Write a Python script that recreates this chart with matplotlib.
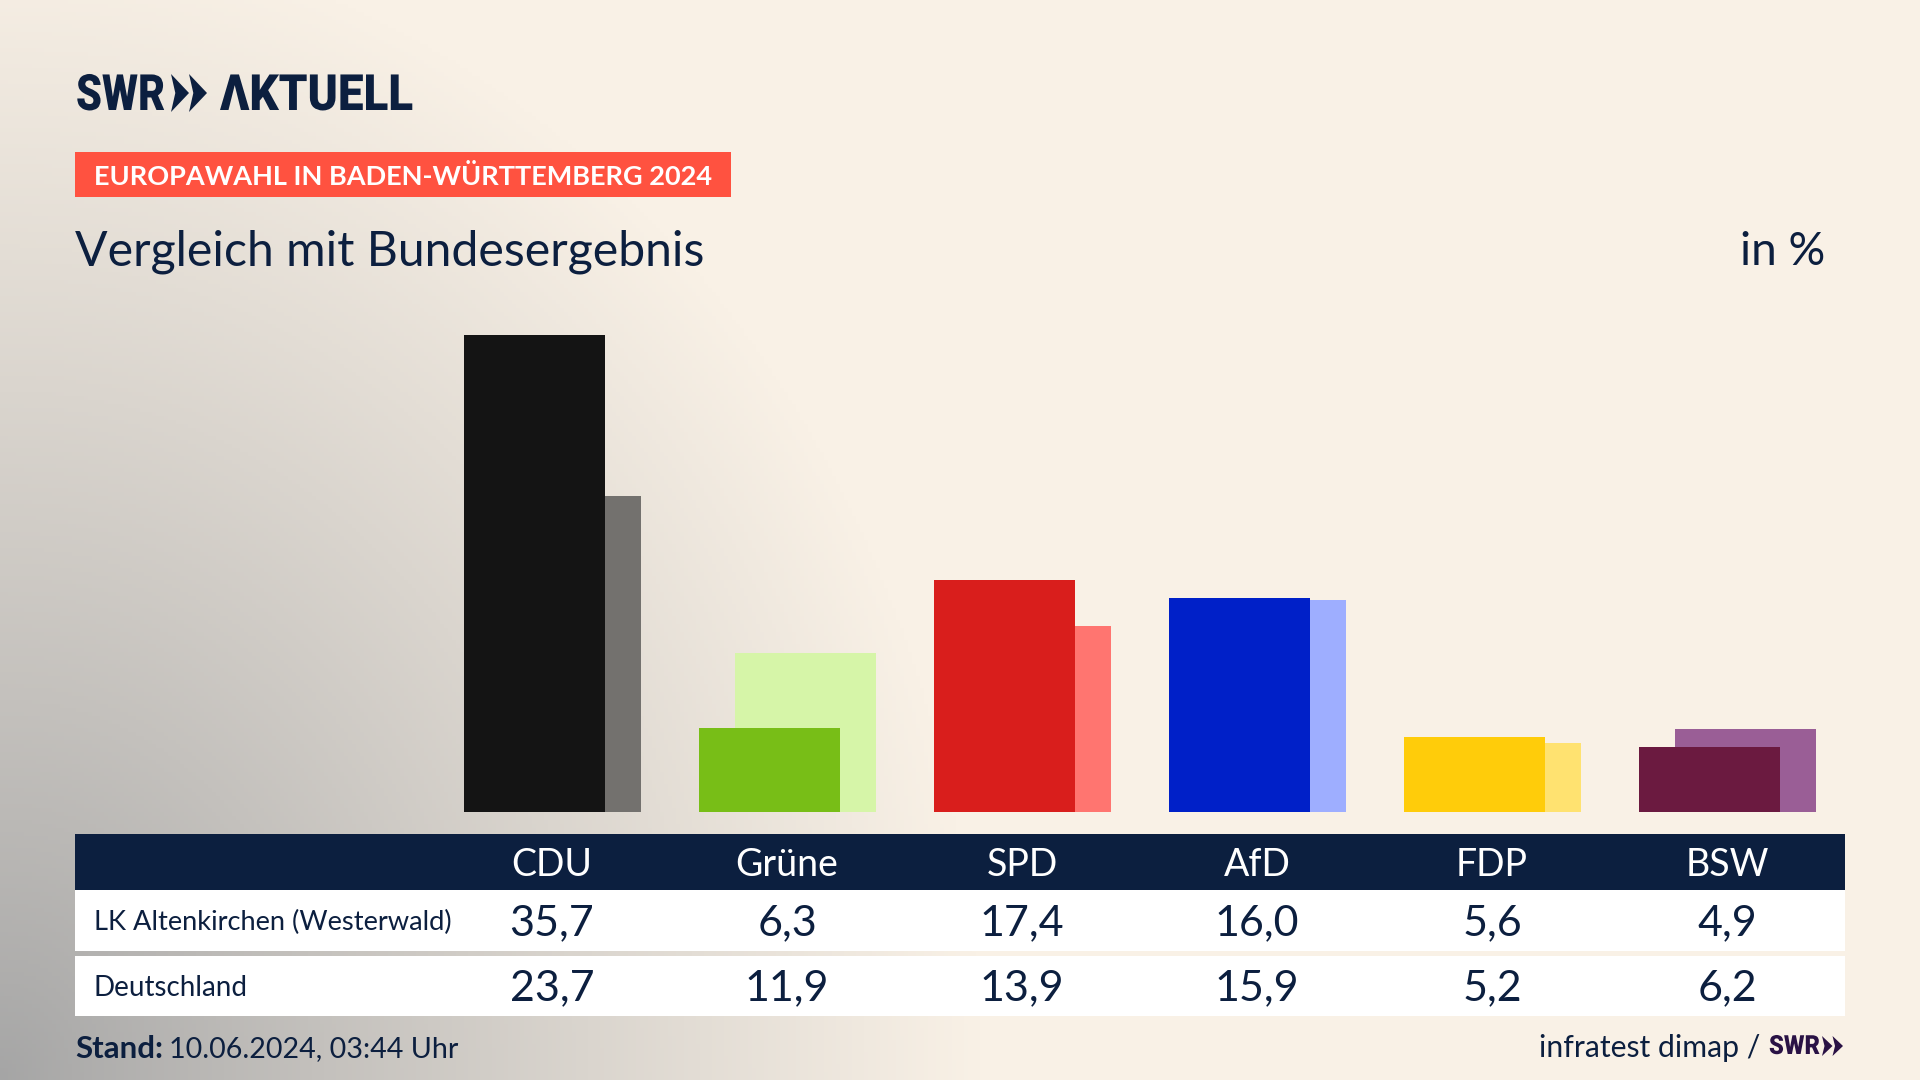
import numpy as np
import matplotlib
matplotlib.use('Agg')
import matplotlib.pyplot as plt
from matplotlib.patches import Polygon, Rectangle
from matplotlib.patheffects import AbstractPathEffect
from matplotlib.transforms import Affine2D, blended_transform_factory

parties = ['CDU', 'Grüne', 'SPD', 'AfD', 'FDP', 'BSW']
region_name = 'LK Altenkirchen (Westerwald)'
region_values = [35.7, 6.3, 17.4, 16.0, 5.6, 4.9]
national_name = 'Deutschland'
national_values = [23.7, 11.9, 13.9, 15.9, 5.2, 6.2]
front_colors = ['#141414', '#78BE17', '#D91E1C', '#0020C8', '#FFCC0A', '#6B1A40']
back_colors = ['#73716E', '#D6F5A8', '#FF7570', '#9EAEFF', '#FFE270', '#9A5E96']

NAVY = '#0C1F3F'
FONT = ['Lato', 'DejaVu Sans']
LOGO_FONT = ['Roboto', 'DejaVu Sans']


class SqueezeX(AbstractPathEffect):
    """Narrow a text horizontally around x0 (pixels), there is no condensed logo font"""

    def __init__(self, factor, x0):
        super().__init__()
        self.squeeze = Affine2D().translate(-x0, 0).scale(factor, 1).translate(x0, 0)

    def draw_path(self, renderer, gc, tpath, affine, rgbFace=None):
        renderer.draw_path(gc, tpath, affine + self.squeeze, rgbFace)


def fmt(value):
    return f'{value:.1f}'.replace('.', ',')


def draw_chevrons(ax, x, top, bottom, width, color):
    # the two arrows of the SWR logo
    mid = (top + bottom) / 2
    for i in range(2):
        x0 = x + i * width * 0.5
        ax.add_patch(Polygon([(x0, top), (x0 + width * 0.5, mid), (x0, bottom), (x0 + width * 0.12, mid)],
                             closed=True, color=color, lw=0))


fig = plt.figure(figsize=(19.2, 10.8), dpi=100)

# full figure layer in pixel coordinates, for background, table and texts
bg = fig.add_axes([0, 0, 1, 1])
bg.set_xlim(0, 1920)
bg.set_ylim(1080, 0)
bg.axis('off')

# background: cream with a grey glow out of the lower left corner
yy, xx = np.mgrid[0:1080:270j, 0:1920:480j]
dist = np.sqrt((xx / 980) ** 2 + ((1080 - yy) / 1150) ** 2)
t = np.clip(dist, 0, 1) ** 0.9
cream = np.array([249, 241, 230]) / 255
grey = np.array([165, 165, 165]) / 255
bg.imshow(grey + (cream - grey) * t[..., None], extent=(0, 1920, 1080, 0), aspect='auto', zorder=0)

# bars, 13.35 px per percent point
ax = fig.add_axes([434.5 / 1920, (1080 - 812) / 1080, 1410 / 1920, 480 / 1080])
ax.patch.set_alpha(0)
ax.set_xlim(-0.5, 5.5)
ax.set_ylim(0, 480 / 13.35)
ax.axis('off')
x = np.arange(len(parties))
ax.bar(x + 0.078, national_values, width=0.6, color=back_colors, zorder=2)
ax.bar(x - 0.0755, region_values, width=0.6, color=front_colors, zorder=3)

# header
bg.text(76, 96.5, 'SWR', family=LOGO_FONT, weight=900, fontsize=36, color=NAVY, va='center', ha='left',
        path_effects=[SqueezeX(0.83, 76)])
draw_chevrons(bg, 171, 74, 112, 36, NAVY)
bg.text(220, 96.5, 'ΛKTUELL', family=LOGO_FONT, weight=900, fontsize=36, color=NAVY, va='center', ha='left',
        path_effects=[SqueezeX(0.915, 220)])

bg.add_patch(Rectangle((75, 152), 656, 45, color='#FF5240', lw=0))
bg.text(94, 176.5, 'EUROPAWAHL IN BADEN-WÜRTTEMBERG 2024', family=FONT, weight='bold', fontsize=19.5,
        color='white', va='center', ha='left')
bg.text(75, 252, 'Vergleich mit Bundesergebnis', family=FONT, fontsize=34.7, color=NAVY, va='center', ha='left')
bg.text(1825, 252, 'in %', family=FONT, fontsize=33, color=NAVY, va='center', ha='right')

# table
bg.add_patch(Rectangle((75, 834), 1770, 56, color=NAVY, lw=0))
bg.add_patch(Rectangle((75, 890), 1770, 61, color='white', lw=0))
bg.add_patch(Rectangle((75, 956), 1770, 60, color='white', lw=0))
bg.text(94, 922, region_name, family=FONT, fontsize=19.6, color=NAVY, va='center', ha='left')
bg.text(94, 988, national_name, family=FONT, fontsize=20, color=NAVY, va='center', ha='left')

# party columns follow the bar axis
col = blended_transform_factory(ax.transData, bg.transData)
for i, party in enumerate(parties):
    bg.text(i, 865.5, party, transform=col, family=FONT, fontsize=27, color='white', va='center', ha='center')
    bg.text(i, 923.5, fmt(region_values[i]), transform=col, family=FONT, fontsize=31, color=NAVY, va='center', ha='center')
    bg.text(i, 988.5, fmt(national_values[i]), transform=col, family=FONT, fontsize=31, color=NAVY, va='center', ha='center')

# footer
bg.text(75, 1049.5, 'Stand:', family=FONT, weight='bold', fontsize=22.5, color=NAVY, va='center', ha='left')
bg.text(169, 1049.5, '10.06.2024, 03:44 Uhr', family=FONT, fontsize=20.6, color=NAVY, va='center', ha='left')
bg.text(1760, 1048.5, 'infratest dimap /', family=FONT, fontsize=21.7, color=NAVY, va='center', ha='right')
bg.text(1769, 1047, 'SWR', family=LOGO_FONT, weight=900, fontsize=19, color='#2A1245', va='center', ha='left',
        path_effects=[SqueezeX(0.9, 1769)])
draw_chevrons(bg, 1822, 1036, 1056, 21, '#2A1245')

fig.savefig('out.png', dpi=100)
